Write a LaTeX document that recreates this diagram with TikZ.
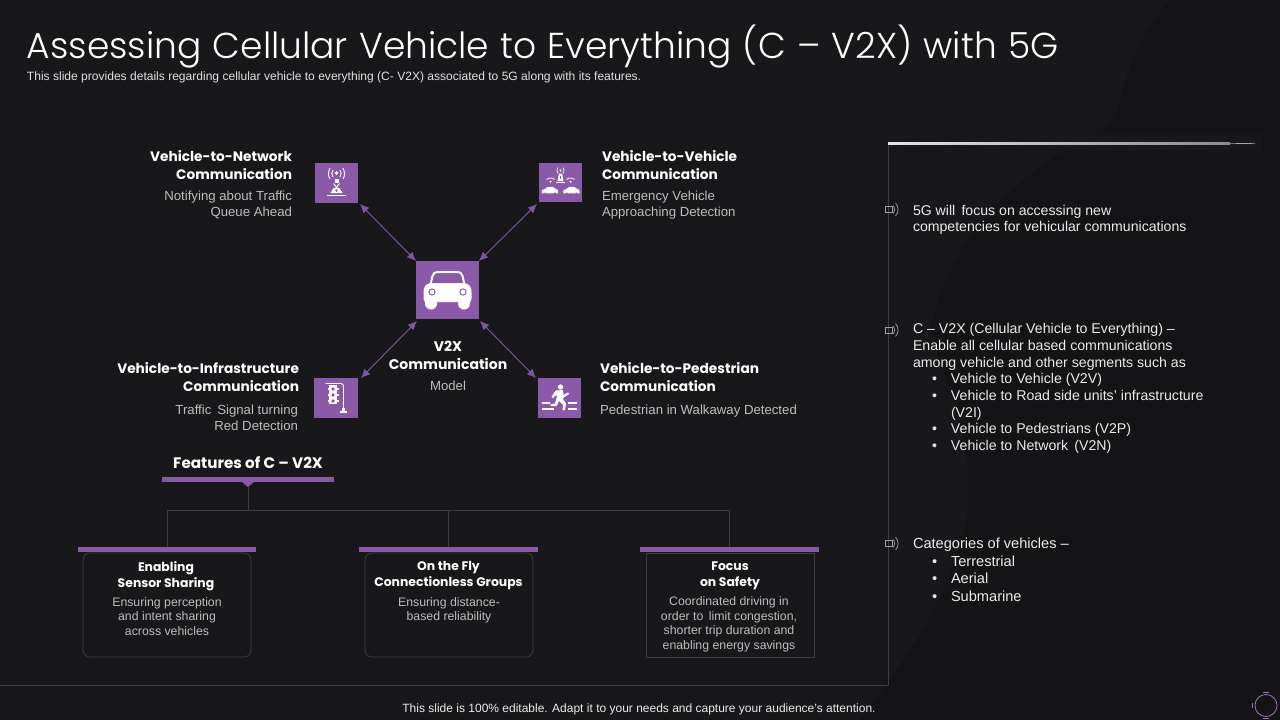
\documentclass[tikz,border=0pt]{standalone}
\usepackage{fontspec}
\setmainfont{Liberation Sans}
\newfontfamily\gothic{Poppins}
\newfontfamily\gothiclight[WordSpace=1.15]{Poppins Light}
\usetikzlibrary{arrows.meta}
\definecolor{bgA}{HTML}{18181B}
\definecolor{bgB}{HTML}{141416}
\definecolor{vio}{HTML}{8A5AA8}
\definecolor{arr}{HTML}{7E57A0}
\definecolor{greytx}{HTML}{BDBDBD}
\definecolor{rulec}{HTML}{3E3E42}
\newcommand{\bl}[1]{\hspace*{19pt}\makebox[19pt][l]{•}#1}
\newcommand{\cont}[1]{\hspace*{38pt}#1}
\tikzset{
  x=1pt,y=-1pt,
  txt/.style={inner sep=0pt,outer sep=0pt,text=white},
  head/.style={txt,font=\gothic\bfseries\fontsize{13.7}{18}\selectfont},
  sub/.style={txt,text=greytx,font=\fontsize{13.2}{16}\selectfont},
  cardhead/.style={txt,font=\gothic\bfseries\fontsize{12.4}{16}\selectfont,align=center},
  cardsub/.style={txt,text=greytx,font=\fontsize{12.3}{14.4}\selectfont,align=center},
  body/.style={txt,text=white!92!black,align=left},
  iconbox/.style={fill=vio,draw=none,inner sep=0pt,outer sep=0pt},
  link/.style={draw=arr,line width=0.9pt,{Latex[length=9pt,width=8pt]}-{Latex[length=9pt,width=8pt]}},
  bar/.style={fill=vio,draw=none,inner sep=0pt,outer sep=0pt},
  tree/.style={draw=rulec,line width=0.7pt},
  card/.style={draw=rulec,line width=0.7pt,inner sep=0pt,outer sep=0pt},
  thin white/.style={draw=white,line width=0.9pt,fill=none},
  bul/.style={draw=gray!75,line width=0.7pt,fill=none}
}
\newcommand{\bulletmark}[2]{%
  \draw[bul] (#1,#2-3) rectangle (#1+7,#2+3);
  \draw[bul] (#1+8,#2-4) .. controls (#1+10,#2-2) and (#1+10,#2+2) .. (#1+8,#2+4);
  \draw[bul] (#1+10.5,#2-6.5) .. controls (#1+14,#2-2.5) and (#1+14,#2+2.5) .. (#1+10.5,#2+6.5);
}
\begin{document}
\begin{tikzpicture}
\useasboundingbox (0,0) rectangle (1280,720);
% background
\fill[bgA] (0,0) rectangle (1280,720);
\fill[bgB] (1280,0) -- (1170,0) .. controls (1110,70) and (1130,120) .. (1100,130)
  .. controls (1030,165) and (950,230) .. (930,330)
  .. controls (950,400) and (990,470) .. (955,560)
  .. controls (930,630) and (900,665) .. (860,720) -- (1280,720) -- cycle;

% title
\node[txt,anchor=base west,font=\gothiclight\fontsize{36}{40}\selectfont] (title) at (27,58) {Assessing Cellular Vehicle to Everything (C – V2X) with 5G};
\node[txt,anchor=base west,text=white!88!black,font=\fontsize{12.05}{14}\selectfont] (subtitle) at (27,80) {This slide provides details regarding cellular vehicle to everything (C- V2X) associated to 5G along with its features.};

% icon squares
\node[iconbox,minimum width=43pt,minimum height=40pt] (net) at (336.5,183) {};
\node[iconbox,minimum width=43pt,minimum height=39pt] (veh) at (560.5,182.5) {};
\node[iconbox,minimum width=63pt,minimum height=58pt] (car) at (447.5,290) {};
\node[iconbox,minimum width=44pt,minimum height=40pt] (inf) at (336,398) {};
\node[iconbox,minimum width=43pt,minimum height=40pt] (ped) at (559.5,398) {};

% arrows
\coordinate (a1) at ([shift={(2,1)}]net.south east);
\draw[link] (a1) -- (car.north west);
\coordinate (b1) at ([shift={(-2,2)}]veh.south west);
\draw[link] (b1) -- (car.north east);
\coordinate (c1) at ([shift={(3,0)}]inf.north east);
\coordinate (c2) at ([shift={(1,2)}]car.south west);
\draw[link] (c1) -- (c2);
\coordinate (d1) at ([shift={(-2,0)}]ped.north west);
\coordinate (d2) at ([shift={(1,2)}]car.south east);
\draw[link] (d1) -- (d2);

% car icon
\begin{scope}[shift={(447.5,290)}]
  \fill[white] (-24,2) .. controls (-24,-3) and (-22,-6) .. (-17,-7) -- (17,-7) .. controls (22,-6) and (24,-3) .. (24,2) -- (24,9) .. controls (24,11) and (23,12) .. (21,12) -- (-21,12) .. controls (-23,12) and (-24,11) .. (-24,9) -- cycle;
  \fill[white] (-22.5,11) -- (-10.5,11) -- (-10.5,13.5) arc (0:180:6) -- cycle;
  \fill[white] (10.5,11) -- (22.5,11) -- (22.5,13.5) arc (0:180:6) -- cycle;
  \draw[white,line width=2pt] (-17,-5) -- (-15,-14) .. controls (-14,-17) and (-12.5,-18) .. (-10,-18) -- (10,-18) .. controls (12.5,-18) and (14,-17) .. (15,-14) -- (17,-5);
  \fill[vio] (-15.5,-7) -- (-13.2,-15) .. controls (-13,-16) and (-12,-16.5) .. (-10,-16.5) -- (10,-16.5) .. controls (12,-16.5) and (13,-16) .. (13.2,-15) -- (15.5,-7) -- cycle;
  \fill[vio] (-15.5,2) circle (3.6); \fill[white] (-15.5,2) circle (2.4);
  \fill[vio] (15.5,2) circle (3.6); \fill[white] (15.5,2) circle (2.4);
\end{scope}

% tower icon
\begin{scope}[shift={(336.5,183)}]
  \fill[white] (0,-10) circle (1.8);
  \draw[thin white] (-3.5,-13) .. controls (-5,-11) and (-5,-8) .. (-3.5,-6);
  \draw[thin white] (3.5,-13) .. controls (5,-11) and (5,-8) .. (3.5,-6);
  \draw[thin white] (-6.5,-15) .. controls (-8.5,-11) and (-8.5,-7) .. (-6.5,-4);
  \draw[thin white] (6.5,-15) .. controls (8.5,-11) and (8.5,-7) .. (6.5,-4);
  \fill[white] (-2,-4) rectangle (2,0);
  \draw[thin white] (-3,0.5) -- (3.5,9) (3,0.5) -- (-3.5,9);
  \fill[white] (-6,10) -- (6,10) -- (3,5) -- (-3,5) -- cycle;
  \fill[vio] (0,7.5) circle (1.3);
  \fill[white] (-9.5,11.5) rectangle (9.5,13.3);
\end{scope}

% vehicle to vehicle icon
\begin{scope}[shift={(560.5,182.5)}]
  \fill[white] (0,-12) circle (1.1);
  \draw[white,line width=0.6pt] (-2.5,-15) .. controls (-4,-13) and (-4,-11) .. (-2.5,-9) (2.5,-15) .. controls (4,-13) and (4,-11) .. (2.5,-9);
  \fill[white] (-1.6,-9) -- (1.6,-9) -- (2.8,-1.5) -- (-2.8,-1.5) -- cycle;
  \fill[vio] (-0.6,-7) rectangle (0.6,-3.5);
  \fill[white] (-4.5,-0.8) rectangle (4.5,0.4);
  \draw[white,line width=0.8pt] (-14,-3) .. controls (-12,-5) and (-8,-5) .. (-6,-3);
  \fill[white] (-10,-0.8) circle (1.2);
  \draw[white,line width=0.8pt] (6,-3) .. controls (8,-5) and (12,-5) .. (14,-3);
  \fill[white] (10,-0.8) circle (1.2);
  \foreach \cx in {-10.5,11}{
    \begin{scope}[shift={(\cx,1.5)},xscale=0.85,yscale=0.85]
    \fill[white] (-9.5,11) -- (-9.5,7.5) .. controls (-8,6.2) and (-6.5,6) .. (-5.5,5.5) .. controls (-4,3.6) and (-2,3.3) .. (0,3.3) -- (3,3.3) .. controls (5,3.6) and (6,5) .. (7,6) .. controls (8.5,6.5) and (9.5,7) .. (9.5,8.5) -- (9.5,11) -- cycle;
    \fill[vio] (-5.5,11.3) circle (1.4);
    \fill[vio] (5.5,11.3) circle (1.4);
    \end{scope}
  }
\end{scope}

% traffic light icon
\begin{scope}[shift={(336,398)}]
  \draw[white,line width=0.9pt] (-10.5,-14.5) -- (5,-14.5) .. controls (7,-14.5) and (7.5,-13) .. (7.5,-11) -- (7.5,11);
  \fill[white] (-7,-13) rectangle (1,6);
  \fill[white] (-8.5,-10) rectangle (2.5,-8);
  \fill[white] (-8.5,-4) rectangle (2.5,-2);
  \fill[white] (-8.5,2) rectangle (2.5,4);
  \fill[vio] (-3,-9) circle (1.8);
  \fill[vio] (-3,-3) circle (1.8);
  \fill[vio] (-3,3) circle (1.8);
  \fill[white] (5.7,10) rectangle (9.3,12.5);
  \fill[white] (4,12.5) rectangle (11,15);
\end{scope}

% pedestrian icon
\begin{scope}[shift={(559.5,398)}]
  \fill[white] (1,-11) circle (2.6);
  \fill[white] (-3.5,-7.5) -- (3.5,-8) -- (4,-3) -- (8.5,-5.5) -- (9.5,-4) -- (3.5,0) -- (4,2) -- (6.5,5.5) -- (5.5,12) -- (3,12) -- (3.5,7) -- (-0.5,3) -- (-3,8) -- (-9,8) -- (-9,5.8) -- (-4.8,5.8) -- (-2,-3) -- (-4.5,-2) -- (-6.5,0) -- (-8,-1) -- (-5.5,-5) -- cycle;
  \fill[white] (-17.5,4.4) rectangle (-9.5,5.6);
  \fill[white] (8.5,4.4) rectangle (17.5,5.6);
  \fill[white] (-17.5,10.4) rectangle (-6,11.6);
  \fill[white] (8,10.4) rectangle (17.5,11.6);
\end{scope}

% diagram text
\node[head,anchor=north east,align=right] (netT) at (292,151) {Vehicle-to-Network\\Communication};
\node[sub,anchor=north east,align=right] (netS) at (292,191) {Notifying about Traffic\\Queue Ahead};
\node[head,anchor=north west,align=left] (vehT) at (602,151) {Vehicle-to-Vehicle\\Communication};
\node[sub,anchor=north west,align=left] (vehS) at (602,191) {Emergency Vehicle\\Approaching Detection};
\node[head,anchor=north east,align=right] (infT) at (299,363) {Vehicle-to-Infrastructure\\Communication};
\node[sub,anchor=north east,align=right] (infS) at (298,405) {Traffic\, Signal turning\\Red Detection};
\node[head,anchor=north west,align=left] (pedT) at (600,363) {Vehicle-to-Pedestrian\\Communication};
\node[sub,anchor=north west,align=left] (pedS) at (600,405) {Pedestrian in Walkaway Detected};
\node[head,font=\gothic\bfseries\fontsize{14}{18}\selectfont,anchor=north,align=center] (carT) at (448,341.5) {V2X\\Communication};
\node[sub,anchor=north,align=center] (carS) at (448,381) {Model};

% features tree
\node[txt,anchor=base,font=\gothic\bfseries\fontsize{15.2}{18}\selectfont] (feat) at (248,468) {Features of C – V2X};
\node[bar,minimum width=172pt,minimum height=5pt] (fbar) at (248,479.5) {};
\fill[vio] (242,482) -- (254,482) -- (248,487) -- cycle;
\coordinate (ftip) at (248,487);
\coordinate (hub) at (248,510);
\node[bar,minimum width=178pt,minimum height=5pt] (bar1) at (167,549.5) {};
\node[bar,minimum width=179pt,minimum height=5pt] (bar2) at (448.5,549.5) {};
\node[bar,minimum width=179pt,minimum height=5pt] (bar3) at (729.5,549.5) {};
\draw[tree] (ftip) -- (hub);
\draw[tree] (bar1.north) |- (hub);
\draw[tree] (bar3.north) |- (hub);
\draw[tree] (hub) -| (bar2.north);
\node[card,rounded corners=7pt,minimum width=168pt,minimum height=104pt] (card1) at (167,605) {};
\node[card,rounded corners=7pt,minimum width=168pt,minimum height=104pt] (card2) at (449,605) {};
\node[card,minimum width=168pt,minimum height=104pt] (card3) at (730,605) {};
\node[cardhead,anchor=north] (c1T) at (166,561.5) {Enabling\\Sensor Sharing};
\node[cardsub,anchor=north] (c1S) at (167,597.5) {Ensuring perception\\and intent sharing\\across vehicles};
\node[cardhead,anchor=north] (c2T) at (448.5,561.5) {On the Fly\\Connectionless Groups};
\node[cardsub,anchor=north] (c2S) at (449,597.5) {Ensuring distance-\\based reliability};
\node[cardhead,anchor=north] (c3T) at (730,561.5) {Focus\\on Safety};
\node[cardsub,anchor=north] (c3S) at (729,597) {Coordinated driving in\\order to\, limit congestion,\\shorter trip duration and\\enabling energy savings};

% frame
\fill[bgA] (888,133) rectangle (1262,151);
\coordinate (ftl) at (888,143);
\coordinate (fbl) at (888,685);
\coordinate (fbb) at (0,685);
\draw[rulec,line width=0.7pt] (ftl) -- (fbl) -- (fbb);
\shade[left color=white!90!black,right color=white!55!black] (888,142.8) rectangle (1230,144);
\fill[white!45!black] (1230,143) rectangle (1255,144);
\fill[white!65!black] (1236,142.8) rectangle (1252,144.2);

% right text
\bulletmark{885}{209.5}
\bulletmark{885}{330}
\bulletmark{885}{543.5}
\node[body,anchor=north west,font=\fontsize{14.1}{16}\selectfont] (r1) at (913,205.5) {5G will\, focus on accessing new\\competencies for vehicular communications};
\node[body,anchor=north west,font=\fontsize{14.15}{16.7}\selectfont] (r2) at (913,323.5) {C – V2X (Cellular Vehicle to Everything) –\\Enable all cellular based communications\\among vehicle and other segments such as\\\bl{Vehicle to Vehicle (V2V)}\\\bl{Vehicle to Road side units’ infrastructure}\\\cont{(V2I)}\\\bl{Vehicle to Pedestrians (V2P)}\\\bl{Vehicle to Network\, (V2N)}};
\node[body,anchor=north west,font=\fontsize{14.6}{17.5}\selectfont] (r3) at (913,538) {Categories of vehicles –\\\bl{Terrestrial}\\\bl{Aerial}\\\bl{Submarine}};

% footer
\node[txt,anchor=base,text=white!92!black,font=\fontsize{12}{14}\selectfont] (foot) at (639,712) {This slide is 100\% editable. Adapt it to your needs and capture your audience's attention.};

% corner logo
\draw[vio!85!white,line width=0.8pt] (1266,705.5) circle (11);
\draw[vio!85!white,line width=0.6pt] (1263,692.5) -- (1269,692.5) (1252,703) -- (1252,708) (1263,718.5) -- (1269,718.5);
\end{tikzpicture}
\end{document}
